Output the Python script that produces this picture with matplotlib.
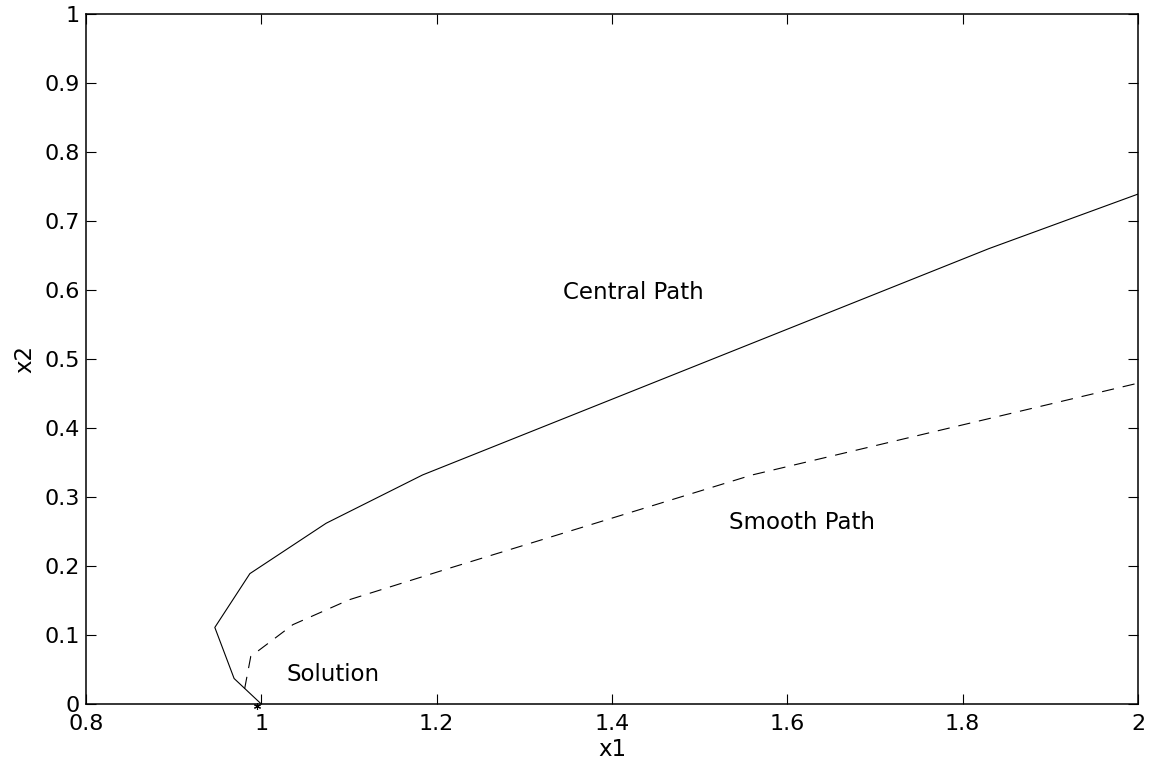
import matplotlib
matplotlib.use("Agg")
import matplotlib.pyplot as plt

# Data
central_x = [1.000, 0.969, 0.947, 0.987, 1.074, 1.184, 1.830, 2.000]
central_y = [0.000, 0.037, 0.111, 0.189, 0.262, 0.332, 0.660, 0.739]

smooth_x = [0.981, 0.988, 1.010, 1.036, 1.100, 1.215, 1.560, 2.000]
smooth_y = [0.022, 0.069, 0.090, 0.115, 0.151, 0.197, 0.332, 0.465]

solution_x = [0.995]
solution_y = [-0.003]

x_ticks = [0.8, 1.0, 1.2, 1.4, 1.6, 1.8, 2.0]
x_tick_labels = ["0.8", "1", "1.2", "1.4", "1.6", "1.8", "2"]
y_ticks = [0, 0.1, 0.2, 0.3, 0.4, 0.5, 0.6, 0.7, 0.8, 0.9, 1.0]
y_tick_labels = ["0", "0.1", "0.2", "0.3", "0.4", "0.5", "0.6", "0.7", "0.8", "0.9", "1"]

annotations = [("Central Path", 1.344, 0.587),
               ("Smooth Path", 1.534, 0.254),
               ("Solution", 1.029, 0.034)]

plt.rcParams['font.family'] = ['DejaVu Sans']

fig = plt.figure(figsize=(11.49, 7.65), dpi=100)
ax = fig.add_axes([0.0748, 0.0797, 0.9156, 0.902])

ax.plot(central_x, central_y, color='black', lw=0.8, solid_joinstyle='miter')
ln, = ax.plot(smooth_x, smooth_y, color='black', lw=0.8)
ln.set_dashes([11.0, 8.0])
ax.plot(solution_x, solution_y, linestyle='none', marker=(6, 2, 0), markersize=5,
        color='black', markeredgewidth=0.8, clip_on=False)

for txt, x, y in annotations:
    ax.text(x, y, txt, fontsize=16.5, ha='left', va='baseline')

ax.set_xlim(0.8, 2.0)
ax.set_ylim(0, 1)
ax.set_xticks(x_ticks)
ax.set_xticklabels(x_tick_labels)
ax.set_yticks(y_ticks)
ax.set_yticklabels(y_tick_labels)
ax.tick_params(direction='in', length=7.5, width=0.8, top=True, right=True,
               labelsize=16)
ax.tick_params(axis='x', pad=7)
ax.tick_params(axis='y', pad=4.5)
for s in ax.spines.values():
    s.set_linewidth(1.1)

ax.set_xlabel("x1", fontsize=16.5, labelpad=3)
ax.set_ylabel("x2", fontsize=16.5, labelpad=6)

fig.savefig("out.png", dpi=100)
